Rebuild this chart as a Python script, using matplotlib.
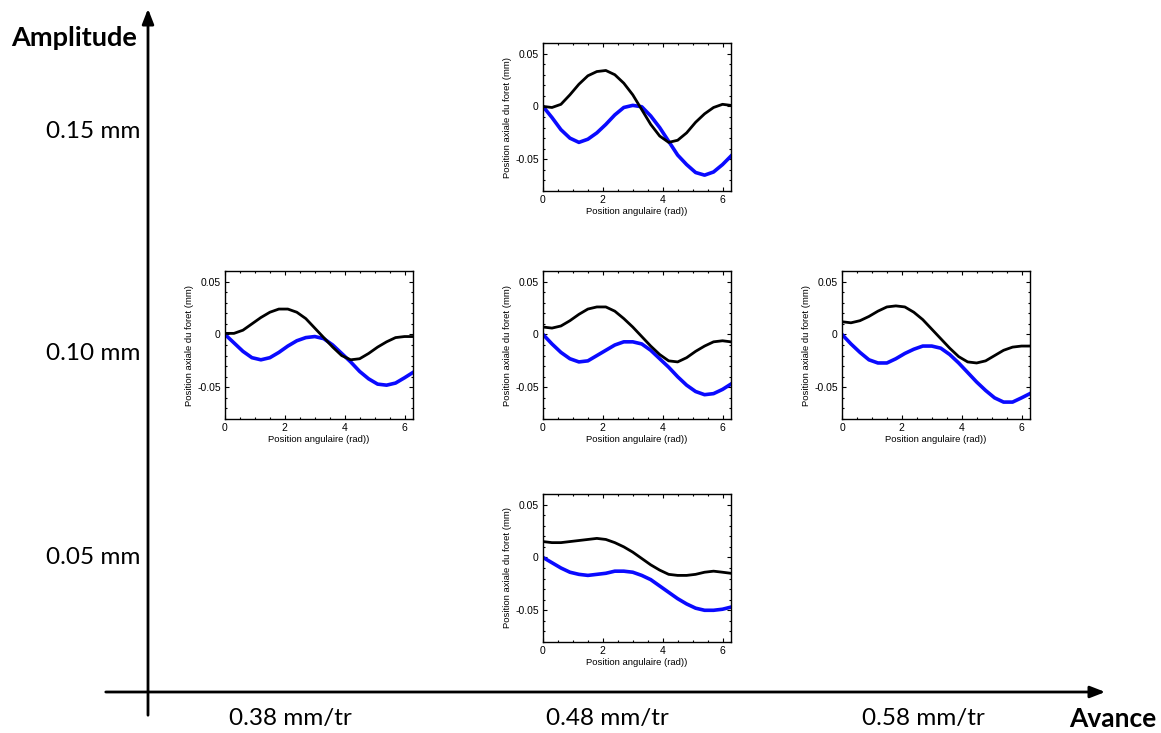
import numpy as np
import matplotlib
matplotlib.use("Agg")
import matplotlib.pyplot as plt
from matplotlib.ticker import AutoMinorLocator

# angular positions (rad) where the curves were read
theta = [0, 0.3, 0.6, 0.9, 1.2, 1.5, 1.8, 2.1, 2.4, 2.7, 3.0, 3.3,
         3.6, 3.9, 4.2, 4.5, 4.8, 5.1, 5.4, 5.7, 6.0, 6.28]

feed_labels = ["0.38 mm/tr", "0.48 mm/tr", "0.58 mm/tr"]
amp_labels = ["0.05 mm", "0.10 mm", "0.15 mm"]

# amplitude 0.15 mm, feed 0.48 mm/tr
black_a15_f48 = [0, -0.001, 0.002, 0.011, 0.021, 0.029, 0.033, 0.034, 0.030, 0.022, 0.011,
                 -0.003, -0.017, -0.028, -0.034, -0.032, -0.025, -0.015, -0.007, -0.001, 0.002, 0.001]
blue_a15_f48 = [0, -0.0105, -0.022, -0.030, -0.034, -0.031, -0.025, -0.017, -0.008, -0.001, 0.001,
                -0.0003, -0.009, -0.020, -0.033, -0.046, -0.055, -0.0625, -0.065, -0.062, -0.055, -0.047]

# amplitude 0.10 mm, feed 0.38 mm/tr
black_a10_f38 = [0.001, 0.001, 0.004, 0.010, 0.016, 0.021, 0.024, 0.024, 0.021, 0.015, 0.006,
                 -0.003, -0.012, -0.020, -0.024, -0.023, -0.018, -0.012, -0.007, -0.003, -0.002, -0.002]
blue_a10_f38 = [0, -0.008, -0.016, -0.022, -0.024, -0.022, -0.017, -0.011, -0.006, -0.003, -0.002,
                -0.004, -0.010, -0.018, -0.026, -0.035, -0.042, -0.047, -0.048, -0.046, -0.041, -0.036]

# amplitude 0.10 mm, feed 0.48 mm/tr
black_a10_f48 = [0.007, 0.006, 0.008, 0.013, 0.019, 0.024, 0.026, 0.026, 0.022, 0.015, 0.007,
                 -0.002, -0.011, -0.019, -0.025, -0.026, -0.022, -0.016, -0.011, -0.007, -0.006, -0.007]
blue_a10_f48 = [0, -0.009, -0.017, -0.023, -0.026, -0.025, -0.020, -0.015, -0.010, -0.007, -0.007,
                -0.009, -0.015, -0.023, -0.031, -0.040, -0.048, -0.054, -0.057, -0.056, -0.052, -0.047]

# amplitude 0.10 mm, feed 0.58 mm/tr
black_a10_f58 = [0.012, 0.011, 0.013, 0.017, 0.022, 0.026, 0.027, 0.026, 0.021, 0.014, 0.005,
                 -0.004, -0.013, -0.021, -0.026, -0.027, -0.025, -0.020, -0.015, -0.012, -0.011, -0.011]
blue_a10_f58 = [0, -0.009, -0.017, -0.024, -0.027, -0.027, -0.023, -0.018, -0.014, -0.011, -0.011,
                -0.013, -0.019, -0.027, -0.036, -0.045, -0.053, -0.060, -0.064, -0.064, -0.060, -0.056]

# amplitude 0.05 mm, feed 0.48 mm/tr
black_a05_f48 = [0.015, 0.014, 0.014, 0.015, 0.016, 0.017, 0.018, 0.017, 0.014, 0.010, 0.005,
                 -0.001, -0.007, -0.012, -0.016, -0.017, -0.017, -0.016, -0.014, -0.013, -0.014, -0.015]
blue_a05_f48 = [0, -0.005, -0.010, -0.014, -0.016, -0.017, -0.016, -0.015, -0.013, -0.013, -0.014,
                -0.017, -0.021, -0.027, -0.033, -0.039, -0.044, -0.048, -0.050, -0.050, -0.049, -0.047]

# (feed index, amplitude index, black, blue)
panels = [
    (1, 2, black_a15_f48, blue_a15_f48),
    (0, 1, black_a10_f38, blue_a10_f38),
    (1, 1, black_a10_f48, blue_a10_f48),
    (2, 1, black_a10_f58, blue_a10_f58),
    (1, 0, black_a05_f48, blue_a05_f48),
]

W, H = 1161, 733
fig = plt.figure(figsize=(W / 100, H / 100), dpi=100)
fig.patch.set_facecolor("white")

# background layer in pixel units for the big arrows and labels
bg = fig.add_axes([0, 0, 1, 1])
bg.set_xlim(0, W)
bg.set_ylim(H, 0)
bg.axis("off")

font_big = "Lato"
bg.annotate("", xy=(148, 6), xytext=(148, 718),
            arrowprops=dict(arrowstyle="-|>,head_length=0.9,head_width=0.35",
                            color="black", lw=2))
bg.annotate("", xy=(1108, 692), xytext=(103, 692),
            arrowprops=dict(arrowstyle="-|>,head_length=0.9,head_width=0.35",
                            color="black", lw=2))
bg.text(137, 38, "Amplitude", ha="right", va="center", fontsize=19.5,
        fontweight="bold", family=font_big)
bg.text(1156, 719, "Avance", ha="right", va="center", fontsize=19,
        fontweight="bold", family=font_big)

col_x = [290, 607, 923]
row_y = [557, 354, 131]
for lab, x in zip(feed_labels, col_x):
    bg.text(x, 719, lab, ha="center", va="center", fontsize=17.5, family=font_big)
for lab, y in zip(amp_labels, row_y):
    bg.text(140, y, lab, ha="right", va="center", fontsize=17.5, family=font_big)

# inset boxes (pixels): left edge per feed column, top edge per amplitude row
box_left = [225, 543, 842]
box_top = [494, 271, 43]
box_w, box_h = 188, 148

for fi, ai, black, blue in panels:
    l = box_left[fi]
    t = box_top[ai]
    ax = fig.add_axes([l / W, 1 - (t + box_h) / H, box_w / W, box_h / H])
    ax.plot(theta, blue, color="#0a0aff", lw=2.6, solid_joinstyle="round")
    ax.plot(theta, black, color="black", lw=2.0, solid_joinstyle="round")
    ax.set_xlim(0, 2 * np.pi)
    ax.set_ylim(-0.08, 0.06)
    ax.set_xticks([0, 2, 4, 6])
    ax.set_xticklabels(["0", "2", "4", "6"])
    ax.set_yticks([-0.05, 0, 0.05])
    ax.set_yticklabels(["-0.05", "0", "0.05"])
    ax.xaxis.set_minor_locator(AutoMinorLocator(4))
    ax.yaxis.set_minor_locator(AutoMinorLocator(5))
    ax.tick_params(which="both", direction="in", top=True, right=True,
                   labelsize=7.5, pad=3, width=0.8)
    ax.tick_params(which="major", length=3)
    ax.tick_params(which="minor", length=1.5)
    for s in ax.spines.values():
        s.set_linewidth(1.0)
    for lbl in ax.get_xticklabels() + ax.get_yticklabels():
        lbl.set_family("Liberation Sans")
    ax.set_xlabel("Position angulaire (rad))", fontsize=6.8, family="Liberation Sans", labelpad=1)
    ax.set_ylabel("Position axiale du foret (mm)", fontsize=6.8, family="Liberation Sans", labelpad=2)

fig.savefig("out.png", dpi=100, facecolor="white")
